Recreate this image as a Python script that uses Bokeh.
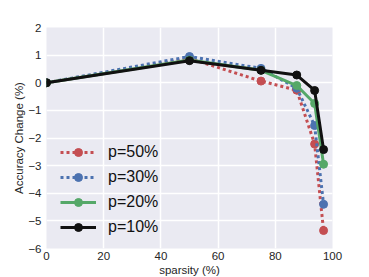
from bokeh.plotting import figure
from bokeh.embed import file_html
from bokeh.resources import INLINE
from bokeh.models import Legend, LegendItem, FixedTicker

sparsity = [0, 50, 75, 87.5, 93.75, 96.875]
p50 = [0.0, 0.88, 0.06, -0.27, -2.22, -5.35]
p30 = [0.0, 0.95, 0.52, -0.2, -1.55, -4.4]
p20 = [0.0, 0.82, 0.45, -0.1, -0.75, -2.95]
p10 = [0.0, 0.8, 0.45, 0.28, -0.28, -2.42]
labels = ["p=50%", "p=30%", "p=20%", "p=10%"]
colors = ["#C44E52", "#4C72B0", "#55A868", "#111111"]
dashes = ["3 3", "3 3", "solid", "solid"]
x_ticks = [0, 20, 40, 60, 80, 100]
y_ticks = [-6, -5, -4, -3, -2, -1, 0, 1, 2]

p = figure(frame_width=286, frame_height=221, x_range=(0, 100), y_range=(-6, 2),
           output_backend="svg", toolbar_location=None,
           min_border_left=46, min_border_top=27, min_border_right=20, min_border_bottom=0)
p.background_fill_color = "#EAEAF2"
p.border_fill_color = "white"
p.outline_line_color = None
for g in (p.xgrid, p.ygrid):
    g.grid_line_color = "white"
    g.grid_line_width = 1.5
for ax in (p.xaxis, p.yaxis):
    ax.axis_line_color = None
    ax.major_tick_line_color = None
    ax.minor_tick_line_color = None
    ax.major_tick_out = 0
    ax.minor_tick_out = 0
    ax.major_tick_in = 0
    ax.minor_tick_in = 0
    ax.major_label_text_font = "Liberation Sans"
    ax.major_label_text_font_size = "11.5px"
    ax.major_label_text_color = "#262626"
    ax.axis_label_text_font = "Liberation Sans"
    ax.axis_label_text_font_size = "11.5px"
    ax.axis_label_text_font_style = "normal"
    ax.axis_label_text_color = "#262626"
p.xaxis.ticker = FixedTicker(ticks=x_ticks)
p.yaxis.ticker = FixedTicker(ticks=y_ticks)
p.xaxis.axis_label = "sparsity (%)"
p.yaxis.axis_label = "Accuracy Change (%)"
p.xaxis.major_label_standoff = 3
p.yaxis.major_label_standoff = 5
p.xaxis.axis_label_standoff = 1
p.yaxis.axis_label_standoff = 0

items = []
for ys, lab, c, d in zip([p50, p30, p20, p10], labels, colors, dashes):
    l = p.line(sparsity, ys, line_color=c, line_width=3, line_dash=d)
    s = p.scatter(sparsity, ys, size=8, fill_color=c, line_color=c)
    items.append(LegendItem(label=lab, renderers=[l, s]))

leg = Legend(items=items, location=(14, 11), background_fill_alpha=0, border_line_color=None,
             label_text_font="Liberation Sans", label_text_font_size="16px",
             label_text_color="#111111", glyph_width=36, glyph_height=20,
             spacing=5, label_standoff=12, padding=6)
p.add_layout(leg, "center")

open("out.html", "w").write(file_html(p, INLINE))
